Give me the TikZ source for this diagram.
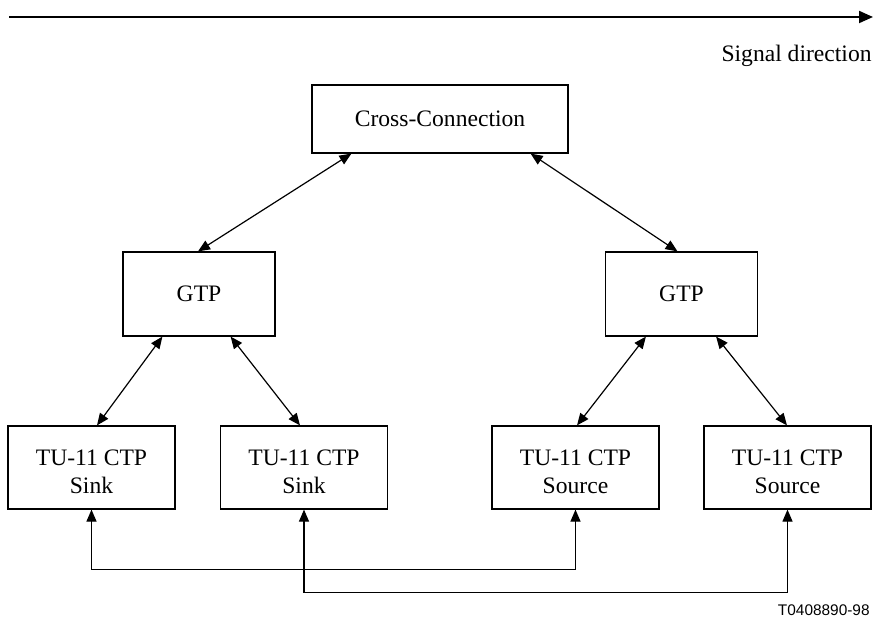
\documentclass[tikz,border=0pt]{standalone}
\usepackage{fontspec}
\setmainfont{Liberation Serif}
\newfontfamily\labelsans{Liberation Sans}
\usetikzlibrary{arrows.meta,calc}
\newcommand{\twolines}[2]{\raisebox{-6pt}[0pt][0pt]{\begin{tabular}{@{}c@{}}#1\\#2\end{tabular}}}
\begin{document}
\begin{tikzpicture}[x=0.5pt,y=-0.5pt,
  box/.style={draw=black,line width=0.6pt,inner sep=0pt,align=center,
    font=\fontsize{11.8}{14}\selectfont},
  ccbox/.style={box,minimum width=128pt,minimum height=34pt},
  gtpbox/.style={box,minimum width=76pt,minimum height=42pt},
  tubox/.style={box,minimum width=83.5pt,minimum height=41.5pt},
  link/.style={line width=0.6pt,{Triangle[length=6pt,width=5pt]}-{Triangle[length=6pt,width=5pt]}}
]
\useasboundingbox (0,0) rectangle (877,619);
% signal direction
\coordinate (sa) at (9,17);
\coordinate (sb) at (873,17);
\draw[line width=1pt,-{Triangle[length=7pt,width=6pt]}] (sa) -- (sb);
\node[anchor=base east,inner sep=0pt,font=\fontsize{11.8}{14}\selectfont] (sig) at (872,62) {Signal direction};
% boxes
\node[ccbox] (cc) at (440,119) {Cross-Connection};
\node[gtpbox] (gl) at (199,294) {GTP};
\node[gtpbox] (gr) at (681.5,294) {GTP};
\node[tubox] (t1) at (91.5,467.5) {\twolines{TU-11 CTP}{Sink}};
\node[tubox] (t2) at (304,467.5) {\twolines{TU-11 CTP}{Sink}};
\node[tubox] (t3) at (575.5,467.5) {\twolines{TU-11 CTP}{Source}};
\node[tubox] (t4) at (787.5,467.5) {\twolines{TU-11 CTP}{Source}};
% links
\draw[link] ($(cc.south west)+(40,0)$) -- ($(gl.north)+(-1,0)$);
\draw[link] ($(cc.south east)+(-38,0)$) -- ($(gr.north)+(-4,0)$);
\draw[link] ($(gl.south west)+(40,0)$) -- ($(t1.north)+(5.5,0)$);
\draw[link] ($(gl.south east)+(-45,0)$) -- ($(t2.north)+(-4,0)$);
\draw[link] ($(gr.south west)+(41,0)$) -- ($(t3.north)+(1.5,0)$);
\draw[link] ($(gr.south east)+(-42,0)$) -- ($(t4.north)+(-0.5,0)$);
% bottom loops
\draw[link] (t1.south) -- ++(0,60) -| (t3.south);
\draw[link] (t2.south) -- ++(0,83) -| (t4.south);
% figure id
\node[anchor=base east,inner sep=0pt,font=\labelsans\fontsize{7.7}{9}\selectfont] (fid) at (870,615) {T0408890-98};
\end{tikzpicture}
\end{document}
